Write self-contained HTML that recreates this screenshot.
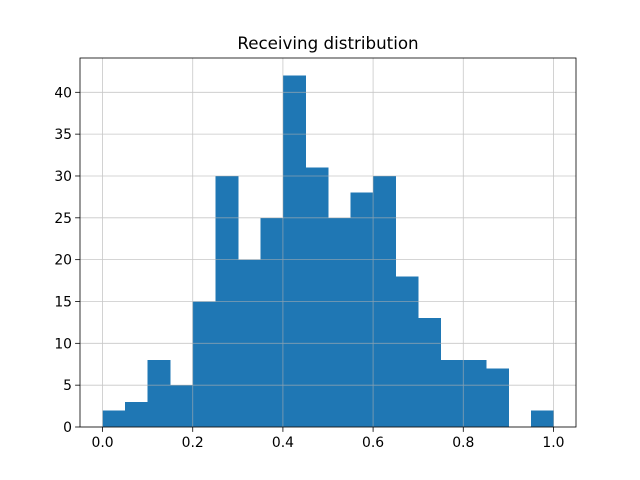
<!DOCTYPE html>
<html><head><meta charset="utf-8"><style>body{margin:0;background:#fff}svg{display:block;font-family:"DejaVu Sans","Liberation Sans",sans-serif}</style></head>
<body>
<svg id="chart" width="640" height="480"></svg>
<script>
const binEdgesStart = [0,0.05,0.1,0.15,0.2,0.25,0.3,0.35,0.4,0.45,0.5,0.55,0.6,0.65,0.7,0.75,0.8,0.85,0.9,0.95];
const counts = [2,3,8,5,15,30,20,25,42,31,25,28,30,18,13,8,8,7,0,2];
const xTicks = [0,0.2,0.4,0.6,0.8,1.0];
const xTickLabels = ["0.0","0.2","0.4","0.6","0.8","1.0"];
const yTicks = [0,5,10,15,20,25,30,35,40];
const binWidth = 0.05;
const titleText = "Receiving distribution";

const L=80,R=576,T=58,B=427;
const xmin=-0.05,xmax=1.05,ymax=Math.max(...counts)*1.05;
const X=v=>L+(v-xmin)/(xmax-xmin)*(R-L);
const Y=v=>B-v/ymax*(B-T);
const svg=document.getElementById('chart');
const NS='http://www.w3.org/2000/svg';
function mk(t,a,p){const e=document.createElementNS(NS,t);for(const k in a)e.setAttribute(k,a[k]);(p||svg).appendChild(e);return e;}

const bars=mk('g',{'shape-rendering':'crispEdges'});


counts.forEach((c,i)=>{
  if(c<=0)return;
  const x0=X(binEdgesStart[i]);
  const r=mk('rect',{x:x0,y:Y(c),width:X(binEdgesStart[i]+binWidth)-x0+0.5,height:B-Y(c),fill:'#1f77b4'},bars);
  
  
});
const grid=mk('g',{stroke:'#b0b0b0','stroke-width':0.8,opacity:0.7});


xTicks.forEach(t=>mk('line',{x1:X(t),x2:X(t),y1:T,y2:B},grid));
yTicks.forEach(t=>mk('line',{x1:L,x2:R,y1:Y(t),y2:Y(t)},grid));
const frame=mk('rect',{x:L,y:T,width:R-L,height:B-T,fill:'none',stroke:'#000','stroke-width':0.8});


const xa=mk('g',{});


xTicks.forEach((t,i)=>{
  mk('line',{x1:X(t),x2:X(t),y1:B,y2:B+4.9,stroke:'#000','stroke-width':0.8},xa);
  const tx=mk('text',{x:X(t),y:B+20,'text-anchor':'middle','font-size':13.9},xa);tx.textContent=xTickLabels[i];
});
const ya=mk('g',{});


yTicks.forEach(t=>{
  mk('line',{x1:L-4.9,x2:L,y1:Y(t),y2:Y(t),stroke:'#000','stroke-width':0.8},ya);
  const tx=mk('text',{x:L-8,y:Y(t)+5,'text-anchor':'end','font-size':13.9},ya);tx.textContent=t;
});
const title=mk('text',{x:(L+R)/2,y:T-9,'text-anchor':'middle','font-size':16.7});
title.textContent=titleText;


</script>
</body></html>
